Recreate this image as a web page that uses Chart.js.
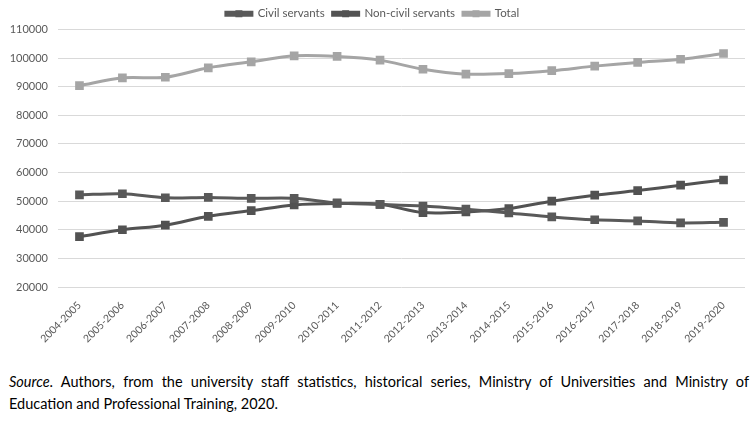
<!DOCTYPE html>
<html>
<head>
<meta charset="utf-8">
<script src="https://cdn.jsdelivr.net/npm/chart.js@4.4.0/dist/chart.umd.min.js"></script>
<style>
  html, body { margin: 0; padding: 0; background: #fff; }
  #wrap { position: relative; width: 756px; height: 428px; }
  #c { position: absolute; left: 0; top: 0; }
  .src { position: absolute; left: 9px; width: 740px; font-family: Lato, "Liberation Sans", Arial, sans-serif; font-size: 14.5px; color: #000; }
  #s1 { top: 373px; text-align: justify; text-align-last: justify; }
  #s2 { top: 395px; }
</style>
</head>
<body>
<div id="wrap">
  <canvas id="c" width="756" height="346"></canvas>
  <div class="src" id="s1"><i>Source</i>. Authors, from the university staff statistics, historical series, Ministry of Universities and Ministry of</div>
  <div class="src" id="s2">Education and Professional Training, 2020.</div>
</div>
<script>
const categories = ["2004-2005","2005-2006","2006-2007","2007-2008","2008-2009","2009-2010","2010-2011","2011-2012","2012-2013","2013-2014","2014-2015","2015-2016","2016-2017","2017-2018","2018-2019","2019-2020"];
const civilServants = [52200, 52600, 51200, 51300, 51000, 51000, 49400, 48900, 48300, 47200, 45900, 44500, 43500, 43100, 42400, 42600];
const nonCivilServants = [37600, 40000, 41600, 44700, 46700, 48700, 49200, 48900, 46000, 46200, 47400, 50000, 52100, 53700, 55600, 57400];
const total = [90400, 93100, 93300, 96600, 98700, 100800, 100600, 99300, 96100, 94400, 94600, 95600, 97200, 98500, 99600, 101600];
const yTicks = [20000, 30000, 40000, 50000, 60000, 70000, 80000, 90000, 100000, 110000];

const legendMarker = {
  id: 'legendMarker',
  afterDraw(chart) {
    const lg = chart.legend;
    if (!lg || !lg.legendHitBoxes) return;
    const ctx = chart.ctx;
    lg.legendHitBoxes.forEach((hb, i) => {
      const ds = chart.data.datasets[i];
      const bw = lg.options.labels.boxWidth;
      const cx = hb.left + bw / 2;
      const cy = hb.top + hb.height / 2;
      ctx.save();
      ctx.fillStyle = ds.borderColor;
      ctx.fillRect(cx - 3.5, cy - 3.5, 7, 7);
      ctx.restore();
    });
  }
};

const mk = (label, data, color) => ({
  label, data,
  borderColor: color, backgroundColor: color,
  borderWidth: 3, tension: 0.3,
  pointStyle: 'rect', pointRadius: 4, pointHoverRadius: 4,
  pointBackgroundColor: color, pointBorderColor: color
});

new Chart(document.getElementById('c'), {
  type: 'line',
  data: {
    labels: categories,
    datasets: [
      mk('Civil servants', civilServants, '#595959'),
      mk('Non-civil servants', nonCivilServants, '#525252'),
      mk('Total', total, '#a5a5a5')
    ]
  },
  options: {
    responsive: false,
    animation: false,
    layout: { padding: { left: 0, right: 11, top: 0, bottom: 0 } },
    plugins: {
      tooltip: { enabled: false },
      legend: {
        position: 'top',
        labels: {
          boxWidth: 26, boxHeight: 3,
          font: { family: "Lato, Liberation Sans, Arial", size: 11.5 },
          color: '#595959', padding: 8
        }
      }
    },
    scales: {
      x: {
        offset: true,
        afterFit: (ax) => { ax.height = 59; },
        grid: { display: false },
        border: { display: false },
        ticks: {
          minRotation: 45, maxRotation: 45,
          font: { family: "Lato, Liberation Sans, Arial", size: 10.5 },
          color: '#595959', padding: 4
        }
      },
      y: {
        min: 20000, max: 110000,
        afterBuildTicks: (ax) => { ax.ticks = yTicks.map(v => ({ value: v })); },
        afterFit: (ax) => { ax.width = 58; },
        grid: { color: '#d9d9d9', lineWidth: 1, drawTicks: false },
        border: { display: false },
        ticks: {
          callback: (v) => String(v),
          font: { family: "Lato, Liberation Sans, Arial", size: 11 },
          color: '#595959', padding: 10
        }
      }
    }
  },
  plugins: [legendMarker]
});
</script>
</body>
</html>
